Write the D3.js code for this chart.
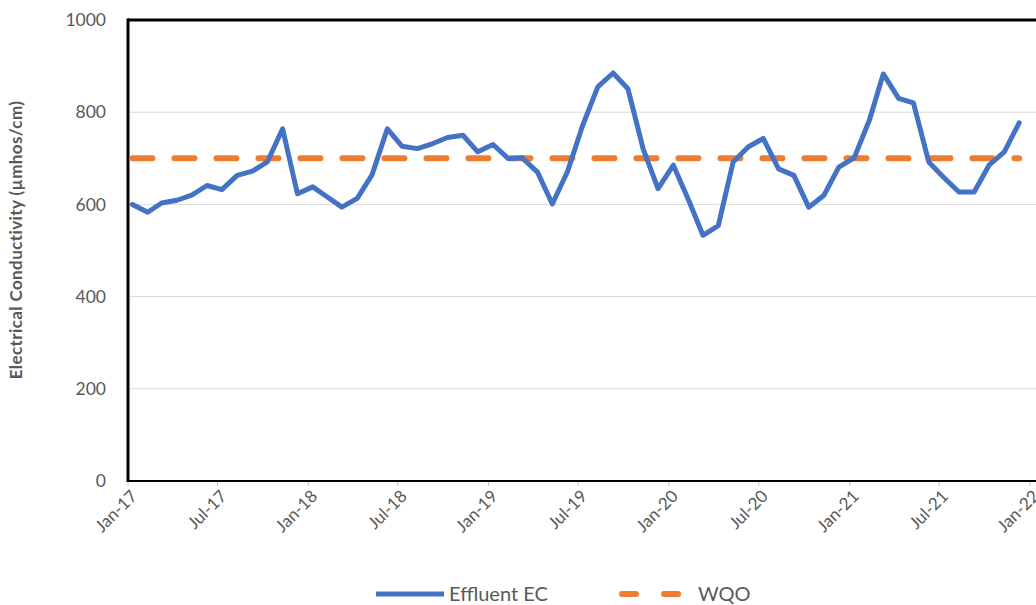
<!DOCTYPE html>
<meta charset="utf-8">
<script src="https://d3js.org/d3.v7.min.js"></script>
<style>
body { margin: 0; background: #fff; }
text { font-family: Lato, "Open Sans", sans-serif; fill: #595959; }
.grid line { stroke: #d9d9d9; stroke-width: 1; }
</style>
<svg width="1036" height="605"></svg>
<script>

// monthly samples, Jan-17 .. Dec-21
var months = ["2017-01","2017-02","2017-03","2017-04","2017-05","2017-06","2017-07","2017-08","2017-09","2017-10","2017-11","2017-12",
              "2018-01","2018-02","2018-03","2018-04","2018-05","2018-06","2018-07","2018-08","2018-09","2018-10","2018-11","2018-12",
              "2019-01","2019-02","2019-03","2019-04","2019-05","2019-06","2019-07","2019-08","2019-09","2019-10","2019-11","2019-12",
              "2020-01","2020-02","2020-03","2020-04","2020-05","2020-06","2020-07","2020-08","2020-09","2020-10","2020-11","2020-12",
              "2021-01","2021-02","2021-03","2021-04","2021-05","2021-06","2021-07","2021-08","2021-09","2021-10","2021-11","2021-12"];
var effluentEC = [600, 583, 603, 609, 620, 641, 632, 663, 672, 692, 764, 623,
                  638, 615, 594, 613, 664, 764, 726, 721, 732, 745, 750, 714,
                  730, 699, 701, 670, 601, 672, 770, 855, 885, 851, 720, 634,
                  685, 609, 533, 554, 692, 725, 743, 677, 663, 594, 620, 681,
                  701, 783, 883, 830, 820, 692, 659, 627, 627, 685, 714, 777];
var wqo = 700;
var yTicks = [0, 200, 400, 600, 800, 1000];
var xTicks = ["2017-01","2017-07","2018-01","2018-07","2019-01","2019-07","2020-01","2020-07","2021-01","2021-07","2022-01"];

var svg = d3.select("svg"),
    W = +svg.attr("width");
var plotLeft = 128, plotTop = 20, plotBottom = 481;

var parseMonth = d3.timeParse("%Y-%m");
var sampleDate = function(m) { return d3.timeDay.offset(parseMonth(m), 9); };

var x = d3.scaleTime()
    .domain([parseMonth("2017-01"), parseMonth("2022-01")])
    .range([plotLeft, 1030]);
var y = d3.scaleLinear()
    .domain([0, 1000])
    .range([plotBottom, plotTop]);

var data = months.map(function(m, i) { return {date: sampleDate(m), ec: effluentEC[i]}; });

// gridlines
svg.append("g")
    .attr("class", "grid")
  .selectAll("line")
  .data(yTicks.filter(function(d) { return d > 0 && d < 1000; }))
  .enter().append("line")
    .attr("x1", plotLeft).attr("x2", W)
    .attr("y1", function(d) { return y(d); })
    .attr("y2", function(d) { return y(d); });

// y tick labels
svg.append("g").selectAll("text")
  .data(yTicks)
  .enter().append("text")
    .attr("x", 106)
    .attr("y", function(d) { return y(d); })
    .attr("dy", "0.35em")
    .attr("text-anchor", "end")
    .style("font-size", "17.5px")
    .text(function(d) { return d; });

// x ticks + labels
var xg = svg.append("g");
xg.selectAll("line")
  .data(xTicks)
  .enter().append("line")
    .attr("x1", function(d) { return x(parseMonth(d)); })
    .attr("x2", function(d) { return x(parseMonth(d)); })
    .attr("y1", plotBottom).attr("y2", plotBottom + 5)
    .attr("stroke", "#bfbfbf");
xg.selectAll("text")
  .data(xTicks)
  .enter().append("text")
    .attr("transform", function(d) { return "translate(" + (x(parseMonth(d)) + 6) + "," + (plotBottom + 12) + ") rotate(-45)"; })
    .attr("text-anchor", "end")
    .attr("dy", "0.35em")
    .style("font-size", "17px")
    .text(function(d) { return d3.timeFormat("%b-%y")(parseMonth(d)); });

// frame: left axis, top border, bottom axis
svg.append("line").attr("x1", plotLeft).attr("x2", W).attr("y1", plotTop).attr("y2", plotTop)
    .attr("stroke", "#000").attr("stroke-width", 3);
svg.append("line").attr("x1", plotLeft).attr("x2", plotLeft).attr("y1", plotTop - 1.5).attr("y2", plotBottom + 1)
    .attr("stroke", "#000").attr("stroke-width", 3);
svg.append("line").attr("x1", plotLeft).attr("x2", W).attr("y1", plotBottom).attr("y2", plotBottom)
    .attr("stroke", "#000").attr("stroke-width", 2);

// WQO dashed line
var line = d3.line()
    .x(function(d) { return x(d.date); });

svg.append("path")
    .datum(data)
    .attr("fill", "none")
    .attr("stroke", "#ED7D31")
    .attr("stroke-width", 6)
    .attr("stroke-dasharray", "20,22")
    .attr("stroke-linecap", "round")
    .attr("d", line.y(function() { return y(wqo); }));

// effluent EC
svg.append("path")
    .datum(data)
    .attr("fill", "none")
    .attr("stroke", "#4472C4")
    .attr("stroke-width", 5)
    .attr("stroke-linejoin", "round")
    .attr("stroke-linecap", "round")
    .attr("d", line.y(function(d) { return y(d.ec); }));

// y axis title
svg.append("text")
    .attr("transform", "translate(22,240) rotate(-90)")
    .attr("text-anchor", "middle")
    .style("font-size", "17px")
    .style("font-weight", "bold")
    .style("letter-spacing", "0.4px")
    .text("Electrical Conductivity (µmhos/cm)");

// legend
var lg = svg.append("g").attr("transform", "translate(0,594)");
lg.append("line").attr("x1", 376).attr("x2", 444).attr("y1", 0).attr("y2", 0)
    .attr("stroke", "#4472C4").attr("stroke-width", 5);
lg.append("text").attr("x", 449).attr("dy", "0.35em").style("font-size", "20px").text("Effluent EC");
lg.append("line").attr("x1", 622).attr("x2", 684).attr("y1", 0).attr("y2", 0)
    .attr("stroke", "#ED7D31").attr("stroke-width", 6)
    .attr("stroke-linecap", "round")
    .attr("stroke-dasharray", "14,28");
lg.append("text").attr("x", 698).attr("dy", "0.35em").style("font-size", "20px").text("WQO");

</script>
